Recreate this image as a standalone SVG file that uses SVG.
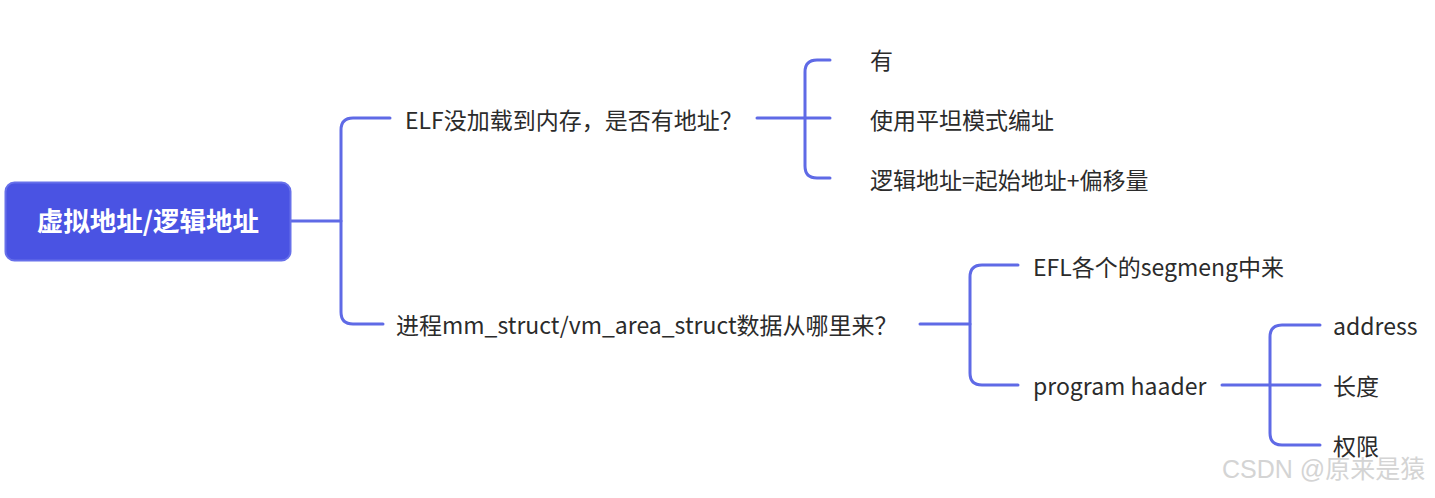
<svg xmlns="http://www.w3.org/2000/svg" width="1435" height="498" viewBox="0 0 1435 498">
<style>
.t{font-family:"Noto Sans CJK SC","Noto Sans",sans-serif;font-size:23px;fill:#2b2b2b}
.root{font-family:"Noto Sans CJK SC","Noto Sans",sans-serif;font-size:26.5px;font-weight:bold;fill:#ffffff}
.c{fill:none;stroke:#5f6ae6;stroke-width:3;stroke-linecap:round}
.wm{font-family:"Liberation Sans","Noto Sans CJK SC",sans-serif;font-size:25px;fill:#d4d4d4}
</style>
<rect width="1435" height="498" fill="#ffffff"/>
<g id="connectors">
<path class="c" d="M291,221 H341"/>
<path class="c" d="M390,118 H353 Q341,118 341,130 V312 Q341,324 353,324 H383"/>
<path class="c" d="M757,118 H830"/>
<path class="c" d="M830,60 H817 Q805,60 805,72 V166 Q805,178 817,178 H830"/>
<path class="c" d="M920,324 H970"/>
<path class="c" d="M1018,265 H982 Q970,265 970,277 V373 Q970,385 982,385 H1018"/>
<path class="c" d="M1222,385 H1320"/>
<path class="c" d="M1320,325 H1282 Q1270,325 1270,337 V433 Q1270,445 1282,445 H1320"/>
</g>
<g id="root">
<rect x="5.5" y="182.5" width="285" height="78" rx="9" fill="#4a53e3" stroke="#6770ea" stroke-width="2"/>
<text class="root" x="148" y="231" text-anchor="middle">虚拟地址/逻辑地址</text>
</g>
<g id="n1"><text class="t" x="405" y="129">ELF没加载到内存，是否有地址？</text></g>
<g id="n2"><text class="t" x="396" y="334">进程mm_struct/vm_area_struct数据从哪里来？</text></g>
<g id="n11"><text class="t" x="870" y="69">有</text></g>
<g id="n12"><text class="t" x="870" y="129">使用平坦模式编址</text></g>
<g id="n13"><text class="t" x="870" y="189">逻辑地址=起始地址+偏移量</text></g>
<g id="n21"><text class="t" x="1033" y="276">EFL各个的segmeng中来</text></g>
<g id="n22"><text class="t" x="1033" y="395">program haader</text></g>
<g id="n221"><text class="t" x="1333" y="335">address</text></g>
<g id="n222"><text class="t" x="1333" y="395">长度</text></g>
<g id="n223"><text class="t" x="1333" y="455">权限</text></g>
<text class="wm" x="1222" y="478">CSDN @原来是猿</text>
</svg>
